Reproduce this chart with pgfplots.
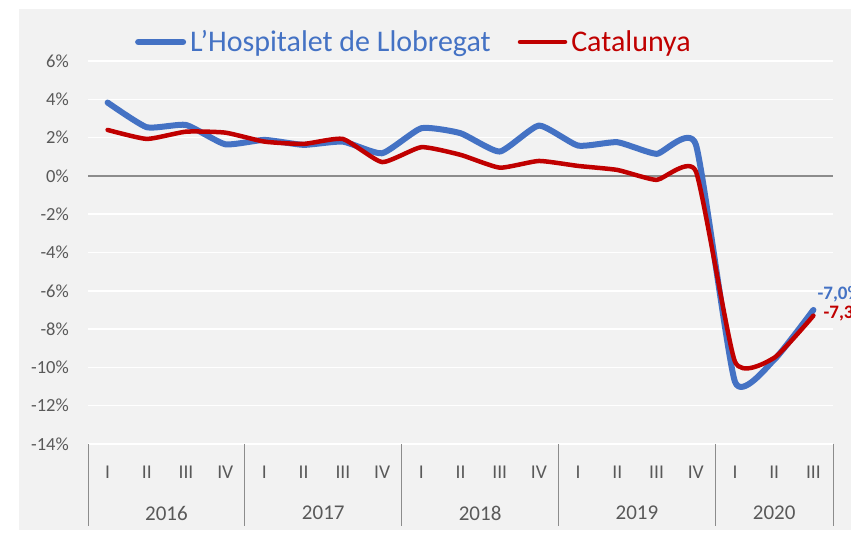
\documentclass[border=0pt]{standalone}
\usepackage{fontspec}
\setmainfont{Carlito}
\usepackage{pgfplots}
\pgfplotsset{compat=1.18}

\definecolor{hospblue}{HTML}{4472C4}
\definecolor{catred}{HTML}{C00000}
\definecolor{bggray}{HTML}{F2F2F2}
\definecolor{labgray}{HTML}{595959}
\definecolor{axgray}{HTML}{8C8C8C}

\begin{document}
\begin{tikzpicture}
\path[use as bounding box] (0,0) rectangle (851pt,534pt);
\fill[bggray] (19pt,4pt) rectangle (851pt,525pt);
\begin{axis}[
    at={(88pt,90pt)}, anchor=south west,
    scale only axis, width=745pt, height=383pt,
    xmin=0, xmax=19, ymin=-14, ymax=6,
    clip=false,
    axis line style={draw=none},
    major tick length=0pt,
    ytick={-14,-12,...,6},
    yticklabels={-14\%,-12\%,-10\%,-8\%,-6\%,-4\%,-2\%,0\%,2\%,4\%,6\%},
    yticklabel style={font=\fontsize{18.5}{20}\selectfont, text=labgray, anchor=east, inner sep=0pt, xshift=-19pt},
    ymajorgrids, grid style={white, line width=1.5pt},
    xtick={0.5,1.5,...,18.5},
    xticklabels={I,II,III,IV,I,II,III,IV,I,II,III,IV,I,II,III,IV,I,II,III},
    xticklabel style={font=\fontsize{19.5}{22}\selectfont, text=labgray, anchor=center, inner sep=0pt, yshift=-28pt},
    legend columns=2,
    legend cell align=left,
    legend style={draw=none, fill=none, at={(0.063,1.0496)}, anchor=west,
        inner sep=0pt, font=\fontsize{30}{34}\selectfont,
        nodes={inner sep=0pt},
        column sep=4pt, /tikz/every even column/.append style={column sep=27pt}},
    legend image code/.code={\draw[#1] (0pt,0pt) -- (45pt,0pt);},
]

% eje horizontal en 0
\draw[axgray, line width=2pt] (axis cs:0,0) -- (axis cs:19,0);

% separadores de años
\pgfplotsinvokeforeach{0,4,8,12,16,19}{
  \draw[axgray, line width=1pt] (axis cs:#1,-14) -- ++(0pt,-82pt);
}

\addplot[hospblue, line width=6pt, smooth, tension=0.3, line cap=round, line join=round] coordinates {
  (0.5,3.83) (1.5,2.54) (2.5,2.66) (3.5,1.65)
  (4.5,1.88) (5.5,1.62) (6.5,1.79) (7.5,1.18)
  (8.5,2.49) (9.5,2.23) (10.5,1.27) (11.5,2.63)
  (12.5,1.58) (13.5,1.76) (14.5,1.15) (15.5,1.65)
  (16.5,-10.75) (17.5,-9.6) (18.5,-7.0)
};
\addlegendentry{\textcolor{hospblue}{L'Hospitalet de Llobregat}}

\addplot[catred, line width=4.5pt, smooth, tension=0.3, line cap=round, line join=round] coordinates {
  (0.5,2.40) (1.5,1.93) (2.5,2.31) (3.5,2.26)
  (4.5,1.79) (5.5,1.67) (6.5,1.93) (7.5,0.72)
  (8.5,1.50) (9.5,1.10) (10.5,0.43) (11.5,0.78)
  (12.5,0.52) (13.5,0.31) (14.5,-0.21) (15.5,0.25)
  (16.5,-9.7) (17.5,-9.5) (18.5,-7.3)
};
\addlegendentry{\textcolor{catred}{Catalunya}}

% etiquetas del último trimestre
\node[anchor=base west, inner sep=0pt, xshift=4pt, yshift=10pt, text=hospblue,
      font=\bfseries\fontsize{19}{22}\selectfont] at (axis cs:18.5,-7.0) {-7,0\%};
\node[anchor=base west, inner sep=0pt, xshift=10pt, yshift=-3pt, text=catred,
      font=\bfseries\fontsize{19}{22}\selectfont] at (axis cs:18.5,-7.3) {-7,3\%};

% años
\node[text=labgray, font=\fontsize{21}{24}\selectfont, yshift=-69pt] at (axis cs:2,-14) {2016};
\node[text=labgray, font=\fontsize{21}{24}\selectfont, yshift=-69pt] at (axis cs:6,-14) {2017};
\node[text=labgray, font=\fontsize{21}{24}\selectfont, yshift=-69pt] at (axis cs:10,-14) {2018};
\node[text=labgray, font=\fontsize{21}{24}\selectfont, yshift=-69pt] at (axis cs:14,-14) {2019};
\node[text=labgray, font=\fontsize{21}{24}\selectfont, yshift=-69pt] at (axis cs:17.5,-14) {2020};

\end{axis}
\end{tikzpicture}
\end{document}
